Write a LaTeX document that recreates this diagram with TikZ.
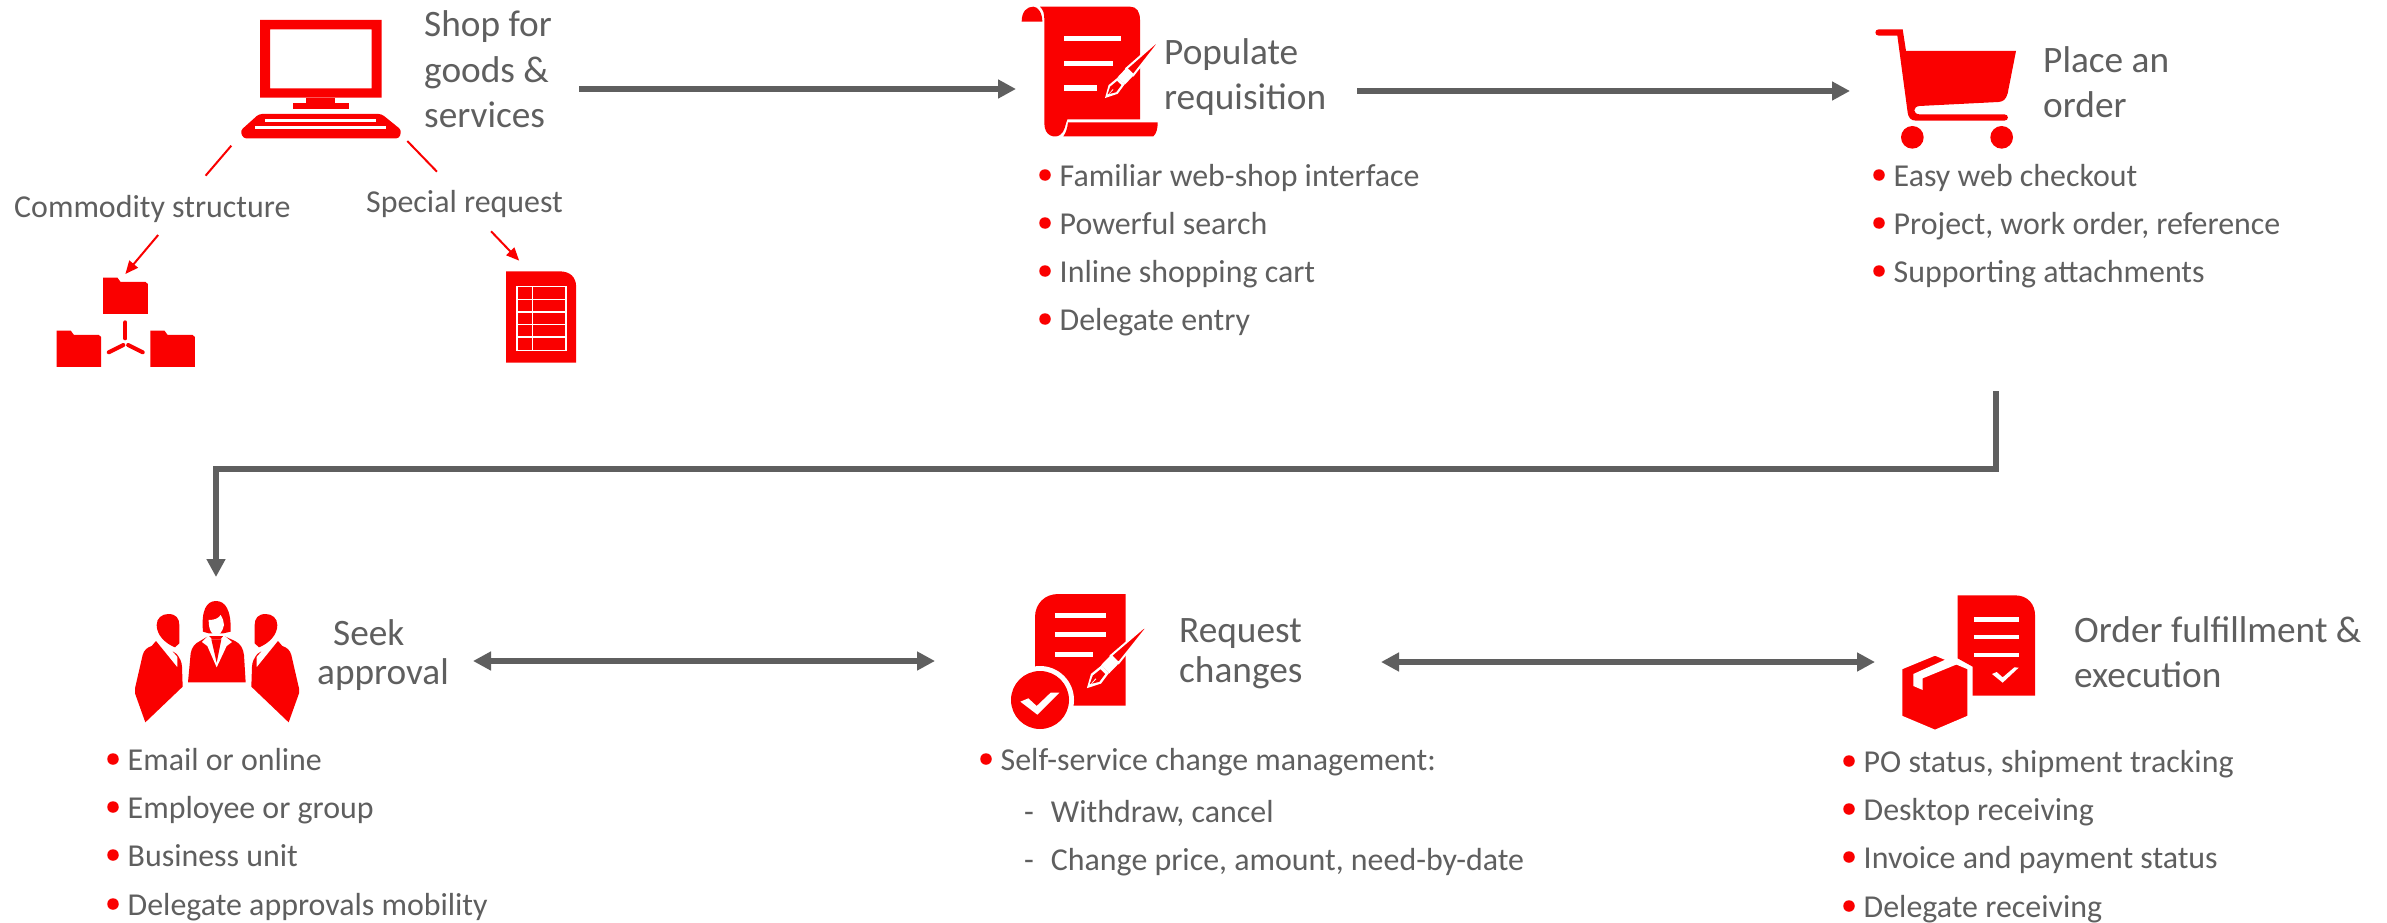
\documentclass[tikz,border=0pt]{standalone}
\usepackage{fontspec}
\setmainfont{Carlito}
\usetikzlibrary{arrows.meta}
\definecolor{rd}{HTML}{FA0000}
\definecolor{gy}{HTML}{5F5F5F}
\tikzset{
 head/.style={anchor=base west,inner sep=0pt,text=gy,font=\fontsize{37.3}{40}\selectfont},
 item/.style={anchor=base west,inner sep=0pt,text=gy,font=\fontsize{31.9}{34}\selectfont},
 flow/.style={draw=gy,line width=6pt,-{Triangle[length=18pt,width=18pt]}},
 flowboth/.style={draw=gy,line width=6pt,{Triangle[length=18pt,width=18pt]}-{Triangle[length=18pt,width=18pt]}},
 redline/.style={draw=rd,line width=2pt},
 redarrow/.style={draw=rd,line width=2pt,-{Triangle[length=13pt,width=11pt]}},
 dot/.style={circle,fill=rd,draw=none,minimum size=11.5pt,inner sep=0pt},
 z3/.style={x=.33333pt,y=-.33333pt},
 z1/.style={x=.39541pt,y=-.33333pt},
}
% pen: tip at origin, along +x, length 100 units scaled by #4
\newcommand{\penglyph}[4]{%
 \begin{scope}[shift={(#1,#2)},rotate=#3,x=#4pt,y=#4pt]
  \fill[white] (-2,0) -- (14,-8.5) -- (30,-6.5) -- (30,6.5) -- (14,8.5) -- cycle;
  \fill[rd] (4,0.9) -- (14,-5.5) -- (26,-4) -- (26,4) -- (14,5.5) -- cycle;
  \fill[white] (0,0) -- (14,0.6) -- (14,-0.6) -- cycle;
  \fill[white] (30,-7) -- (47,-7) -- (47,7) -- (30,7) -- cycle;
  \path[fill=rd,draw=white,line width=2pt] (47,-6.5) -- (100,-1.5) -- (100,1.5) -- (47,6.5) -- cycle;
 \end{scope}}
\newcommand{\blt}[4]{\node[dot] at (#1,#2) {}; \node[item] (#4) at (#1+14.5,#2+11) {#3};}
\begin{document}
\begin{tikzpicture}[x=1pt,y=-1pt]
\useasboundingbox (0,0) rectangle (2387,923);
\fill[white] (0,0) rectangle (2387,923);

% ---------- computer and sub-icons
\begin{scope}[z1]
 \fill[rd,even odd rule] (658,60) rectangle (965,293) (683,88) rectangle (940,265);
 \fill[rd] (775,293) rectangle (848,312);
 \fill[rd] (740,310) rectangle (883,327);
 \fill[rd,rounded corners=3pt] (655,342) -- (965,342) -- (1015,390) -- (1010,415) -- (615,415) -- (608,392) -- cycle;
 \fill[white] (670,357) rectangle (952,366);
 \fill[white] (645,379) rectangle (977,388);
 % folders
 \foreach \dx/\dy in {0/0,-118/159,119/159}{
  \begin{scope}[shift={(\dx,\dy)}]
   \fill[rd] (261,833) -- (297,833) -- (305,846) -- (368,846) -- (374,852) -- (374,942) -- (261,942) -- cycle;
  \end{scope}}
 \draw[rd,line width=4pt,line cap=round] (317,967) -- (317,1015);
 \draw[rd,line width=4pt,line cap=round] (275,1057) -- (312,1035);
 \draw[rd,line width=4pt,line cap=round] (361,1057) -- (324,1035);
 % sheet
 \fill[rd] (1280,814) -- (1415,814) .. controls (1442,814) and (1457,832) .. (1457,860) -- (1457,1088) -- (1280,1088) -- cycle;
 \draw[white,line width=1.5pt] (1307,860) rectangle (1431,1051);
 \draw[white,line width=1.5pt] (1347,860) -- (1347,1051);
 \foreach \yy in {898,936,974,1011}{\draw[white,line width=1.5pt] (1307,\yy) -- (1431,\yy);}
 \coordinate (lnA1) at (585,437);
 \coordinate (lnA2) at (520,527);
 \coordinate (lnB1) at (1030,423);
 \coordinate (lnB2) at (1105,515);
 \coordinate (arA1) at (400,705);
 \coordinate (arA2) at (317,822);
 \coordinate (arB1) at (1242,694);
 \coordinate (arB2) at (1313,782);
\end{scope}
\draw[redline] (lnA1) -- (lnA2);
\draw[redline] (lnB1) -- (lnB2);
\draw[redarrow] (arA1) -- (arA2);
\draw[redarrow] (arB1) -- (arB2);

\node[head] (shop1) at (424,37) {Shop for};
\node[head] (shop2) at (424,83) {goods \&};
\node[head] (shop3) at (424,128) {services};
\node[item] (comm) at (14,217) {Commodity structure};
\node[item] (spec) at (366,212) {Special request};

% ---------- scroll
\begin{scope}[z3,shift={(980pt,0pt)}]
 \fill[rd] (125,65) .. controls (125,35) and (140,20) .. (160,20) .. controls (175,20) and (187,40) .. (187,65) -- cycle;
 \fill[rd] (180,20) -- (450,20) .. controls (470,20) and (480,35) .. (480,60) -- (480,358) -- (262,358) .. controls (255,375) and (255,395) .. (240,405) .. controls (225,415) and (193,410) .. (193,370) -- (193,60) .. controls (193,40) and (190,30) .. (180,20) -- cycle;
 \fill[rd] (264,367) -- (533,367) .. controls (533,385) and (530,400) .. (520,409) -- (250,409) .. controls (258,398) and (262,385) .. (264,367) -- cycle;
 \fill[white] (251,107) rectangle (424,124);
 \fill[white] (251,182) rectangle (398,199);
 \fill[white] (251,256) rectangle (350,272);
\end{scope}
\penglyph{1106}{97}{46.6}{.74}
\node[head] (pop1) at (1164,65) {Populate};
\node[head] (pop2) at (1164,110) {requisition};
\blt{1045}{175}{Familiar web-shop interface}{p1}
\blt{1045}{223}{Powerful search}{p2}
\blt{1045}{271}{Inline shopping cart}{p3}
\blt{1045}{319}{Delegate entry}{p4}

% ---------- cart
\begin{scope}[z3,shift={(1840pt,0pt)}]
 \fill[rd] (116,88) -- (188,88) -- (198,153) -- (528,153) -- (503,280) .. controls (498,298) and (490,305) .. (475,306) -- (238,318) .. controls (218,320) and (218,342) .. (238,343) -- (493,343) .. controls (507,343) and (507,362) .. (493,362) -- (228,362) .. controls (212,362) and (205,352) .. (203,338) -- (172,107) -- (116,107) .. controls (103,107) and (103,88) .. (116,88) -- cycle;
 \fill[rd] (217,412) circle[radius=34];
 \fill[rd] (485,412) circle[radius=34];
\end{scope}
\node[head] (ord1) at (2043,72.5) {Place an};
\node[head] (ord2) at (2043,117.5) {order};
\blt{1879}{175}{Easy web checkout}{c1}
\blt{1879}{223}{Project, work order, reference}{c2}
\blt{1879}{271}{Supporting attachments}{c3}

% ---------- people
\begin{scope}[z3,shift={(100pt,-560pt)}]
 % woman
 \fill[rd] (309,215) .. controls (303,150) and (320,123) .. (348,123) .. controls (376,123) and (394,150) .. (392,215) -- (370,220) -- (326,220) -- cycle;
 \fill[white] (326,180) .. controls (345,180) and (355,175) .. (362,165) .. controls (368,175) and (372,185) .. (372,195) .. controls (368,215) and (358,226) .. (348,226) .. controls (336,226) and (326,210) .. (326,180) -- cycle;
 \fill[rd] (264,367) -- (272,280) .. controls (275,262) and (285,250) .. (300,243) -- (325,228) -- (372,228) -- (405,243) .. controls (420,250) and (430,265) .. (432,285) -- (437,367) -- cycle;
 \fill[white] (325,226) -- (306,246) -- (322,258) -- (350,322) -- (380,258) -- (396,246) -- (372,226) -- (362,238) -- (336,238) -- cycle;
 \fill[rd] (334,238) -- (364,238) -- (350,308) -- cycle;
 % men
 \foreach \sg/\ox in {1/0,-1/702}{
 \begin{scope}[shift={(\ox,0)},x={(\sg*.33333pt,0pt)}]
  \fill[rd] (205,162) .. controls (228,162) and (238,175) .. (238,195) -- (238,250) -- (225,262) .. controls (195,250) and (170,225) .. (170,195) .. controls (170,175) and (185,162) .. (205,162) -- cycle;
  \fill[rd] (168,243) -- (232,322) -- (232,290) -- (218,274) -- (230,282) .. controls (240,295) and (245,305) .. (246,320) -- (248,380) -- (136,487) -- (105,400) -- (105,385) -- (128,285) .. controls (132,270) and (142,262) .. (155,258) -- cycle;
 \end{scope}}
\end{scope}
\node[head] (seek1) at (333,645) {Seek};
\node[head] (seek2) at (317,684) {approval};
\blt{113}{759}{Email or online}{s1}
\blt{113}{807}{Employee or group}{s2}
\blt{113}{855}{Business unit}{s3}
\blt{113}{904}{Delegate approvals mobility}{s4}

% ---------- request
\begin{scope}[z3,shift={(980pt,-570pt)}]
 \fill[rd] (165,407) -- (165,142) .. controls (165,100) and (195,72) .. (235,72) -- (437,72) -- (437,407) -- cycle;
 \fill[white] (180,390) circle[radius=102];
 \fill[rd] (180,390) circle[radius=87];
 \fill[white] (225,128) rectangle (377,143);
 \fill[white] (225,186) rectangle (377,200);
 \fill[white] (225,245) rectangle (340,260);
 \fill[white] (121,395) -- (145,385) -- (170,408) -- (212,368) -- (238,368) -- (172,434) -- cycle;
\end{scope}
\penglyph{1088}{687}{46}{.82}
\node[head] (req1) at (1179,642) {Request};
\node[head] (req2) at (1179,682) {changes};
\blt{986}{759}{Self-service change management:}{r1}
\node[item] (r2) at (1024,822) {-\hspace{17pt}Withdraw, cancel};
\node[item] (r3) at (1024,870) {-\hspace{17pt}Change price, amount, need-by-date};

% ---------- fulfilment
\begin{scope}[z3,shift={(1860pt,-570pt)}]
 \fill[rd] (293,265) -- (293,76) -- (465,76) .. controls (505,76) and (525,105) .. (525,135) -- (525,377) -- (338,377) -- (338,290) -- cycle;
 \fill[white] (341,142) rectangle (477,155);
 \fill[white] (341,195) rectangle (477,207);
 \fill[white] (341,248) rectangle (477,260);
 \fill[white] (396,312) -- (410,306) -- (428,322) -- (463,292) -- (476,293) -- (428,338) -- cycle;
 \path[fill=rd,draw=white,line width=2.5pt] (123,295) -- (225,253) -- (326,295) -- (326,440) -- (225,483) -- (123,440) -- cycle;
 \fill[white] (160,312) -- (258,268) -- (293,282) -- (188,325) -- (188,360) -- (160,348) -- cycle;
\end{scope}
\node[head] (ful1) at (2074,642) {Order fulfillment \&};
\node[head] (ful2) at (2074,687) {execution};
\blt{1849}{761}{PO status, shipment tracking}{f1}
\blt{1849}{809}{Desktop receiving}{f2}
\blt{1849}{857}{Invoice and payment status}{f3}
\blt{1849}{906}{Delegate receiving}{f4}

% ---------- connectors
\coordinate (a1s) at (579,89);
\coordinate (a1e) at (1016,89);
\coordinate (a2s) at (1357,91);
\coordinate (a2e) at (1850,91);
\coordinate (a3s) at (1996,391);
\coordinate (a3a) at (1996,469);
\coordinate (a3b) at (216,469);
\coordinate (a3e) at (216,577);
\coordinate (a4s) at (473,661);
\coordinate (a4e) at (935,661);
\coordinate (a5s) at (1381,662);
\coordinate (a5e) at (1875,662);
\draw[flow] (a1s) -- (a1e);
\draw[flow] (a2s) -- (a2e);
\draw[flow] (a3s) -- (a3a) -- (a3b) -- (a3e);
\draw[flowboth] (a4s) -- (a4e);
\draw[flowboth] (a5s) -- (a5e);
\end{tikzpicture}
\end{document}
